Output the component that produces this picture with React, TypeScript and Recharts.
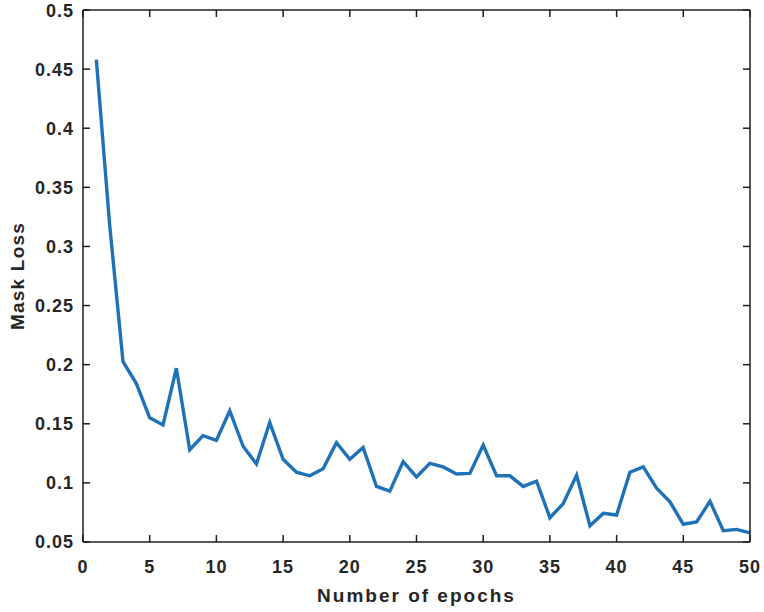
import { LineChart, Line, XAxis, YAxis } from 'recharts';

const epochs = [
  1, 2, 3, 4, 5, 6, 7, 8, 9, 10, 11, 12, 13, 14, 15, 16, 17, 18, 19, 20, 21, 22, 23, 24, 25,
  26, 27, 28, 29, 30, 31, 32, 33, 34, 35, 36, 37, 38, 39, 40, 41, 42, 43, 44, 45, 46, 47, 48, 49, 50,
];
const maskLoss = [
  0.458, 0.318, 0.2025, 0.184, 0.155, 0.149, 0.197, 0.128, 0.14, 0.136,
  0.161, 0.131, 0.116, 0.151, 0.12, 0.109, 0.106, 0.112, 0.134, 0.12,
  0.13, 0.097, 0.093, 0.118, 0.105, 0.1165, 0.1135, 0.1075, 0.108, 0.132,
  0.106, 0.106, 0.097, 0.1015, 0.0705, 0.0825, 0.1065, 0.0637, 0.0742, 0.0728,
  0.109, 0.1135, 0.0955, 0.084, 0.065, 0.067, 0.0845, 0.0595, 0.0607, 0.0578,
];
const xTicks = [0, 5, 10, 15, 20, 25, 30, 35, 40, 45, 50];
const yTicks = [0.05, 0.1, 0.15, 0.2, 0.25, 0.3, 0.35, 0.4, 0.45, 0.5];

const data = epochs.map((e, i) => ({ epoch: e, loss: maskLoss[i] }));

const font = '"Liberation Sans", Arial, Helvetica, sans-serif';
const axisColor = '#1f1f1f';
const tickStyle = { fontFamily: font, fontSize: 18, fontWeight: 700, fill: '#262626', letterSpacing: 1 };
const labelStyle = { fontFamily: font, fontSize: 19, fontWeight: 700, fill: '#262626' };
const fmtY = (v: number) => String(parseFloat(v.toFixed(2)));
const noLabel = () => '';

export default function App() {
  return (
    <div style={{ position: 'absolute', left: 0, top: 0, width: 764, height: 612, background: '#fff' }}>
      <LineChart width={764} height={612} data={data} margin={{ top: 10, right: 14, left: 0, bottom: 0 }}>
        {/* labelled bottom axis */}
        <XAxis
          dataKey="epoch"
          type="number"
          domain={[0, 50]}
          ticks={xTicks}
          height={70}
          tickLine={false}
          tickSize={0}
          tickMargin={18}
          stroke={axisColor}
          strokeWidth={1.5}
          tick={tickStyle}
          label={{
            value: 'Number of epochs',
            position: 'insideBottom',
            offset: 10,
            style: { ...labelStyle, letterSpacing: 2 },
          }}
        />
        {/* inward ticks: bottom */}
        <XAxis
          xAxisId="bin"
          orientation="bottom"
          mirror
          dataKey="epoch"
          type="number"
          domain={[0, 50]}
          ticks={xTicks}
          tickSize={7}
          axisLine={false}
          stroke={axisColor}
          strokeWidth={1.5}
          tickFormatter={noLabel}
        />
        {/* top frame + ticks */}
        <XAxis
          xAxisId="top"
          orientation="top"
          mirror
          dataKey="epoch"
          type="number"
          domain={[0, 50]}
          ticks={xTicks}
          tickSize={7}
          stroke={axisColor}
          strokeWidth={1.5}
          tickFormatter={noLabel}
        />
        {/* labelled left axis */}
        <YAxis
          type="number"
          domain={[0.05, 0.5]}
          ticks={yTicks}
          width={83}
          tickLine={false}
          tickSize={0}
          tickMargin={9}
          stroke={axisColor}
          strokeWidth={1.5}
          tick={tickStyle}
          tickFormatter={fmtY}
          label={{
            value: 'Mask Loss',
            angle: -90,
            position: 'insideLeft',
            offset: 17,
            style: { ...labelStyle, letterSpacing: 1.2, textAnchor: 'middle' },
          }}
        />
        {/* inward ticks: left */}
        <YAxis
          yAxisId="lin"
          orientation="left"
          mirror
          type="number"
          domain={[0.05, 0.5]}
          ticks={yTicks}
          tickSize={7}
          axisLine={false}
          stroke={axisColor}
          strokeWidth={1.5}
          tickFormatter={noLabel}
        />
        {/* right frame + ticks */}
        <YAxis
          yAxisId="right"
          orientation="right"
          mirror
          type="number"
          domain={[0.05, 0.5]}
          ticks={yTicks}
          tickSize={7}
          stroke={axisColor}
          strokeWidth={1.5}
          tickFormatter={noLabel}
        />
        <Line xAxisId="bin" yAxisId="lin" dataKey="loss" stroke="none" dot={false} isAnimationActive={false} />
        <Line xAxisId="top" yAxisId="right" dataKey="loss" stroke="none" dot={false} isAnimationActive={false} />
        <Line
          type="linear"
          dataKey="loss"
          stroke="#1f72b8"
          strokeWidth={3.4}
          dot={false}
          isAnimationActive={false}
        />
      </LineChart>
    </div>
  );
}
